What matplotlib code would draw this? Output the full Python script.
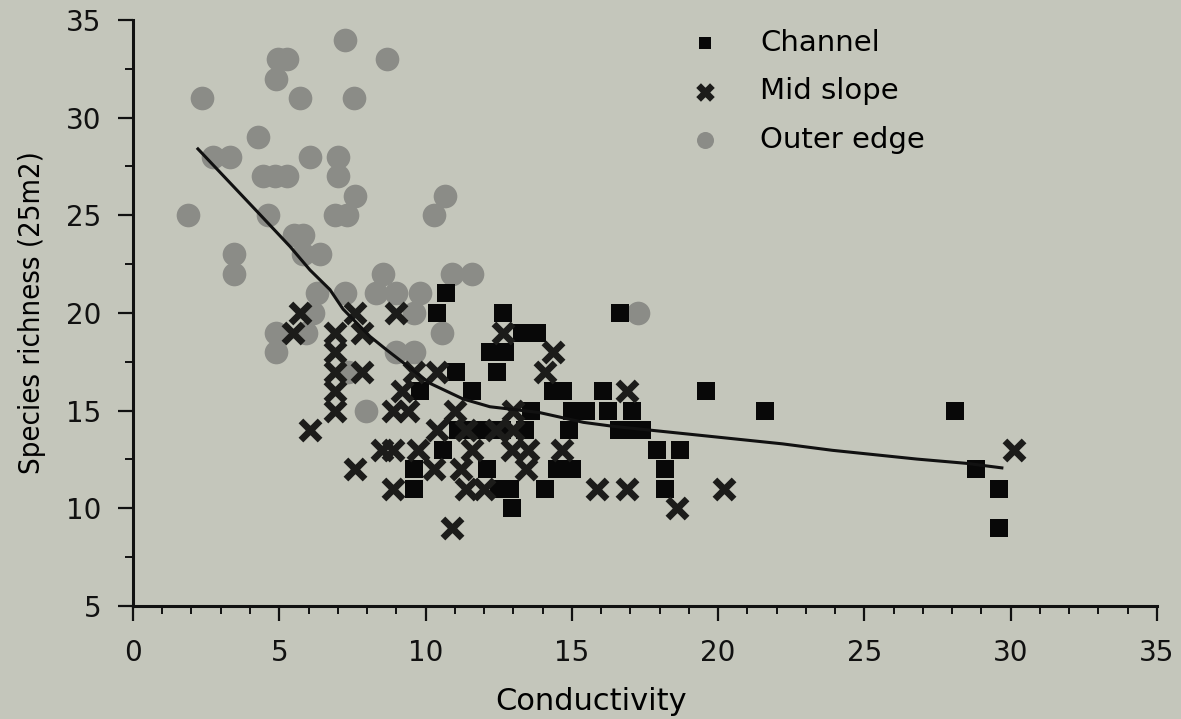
import matplotlib.pyplot as plt
from matplotlib.ticker import MultipleLocator

# Channel (black squares)
channel_x = [10.7, 10.4, 12.65, 16.65, 13.3, 13.8, 12.2, 12.7, 11.05, 12.45,
             9.8, 11.6, 14.35, 14.7, 16.07, 19.6,
             13.6, 15.0, 15.5, 16.25, 17.05, 21.6, 28.1,
             11.1, 11.6, 12.1, 12.6, 13.4, 14.9, 16.6, 17.1, 17.4,
             10.6, 17.9, 18.7,
             9.6, 12.1, 14.5, 15.0, 18.2, 28.8,
             9.6, 12.5, 12.9, 14.1, 18.2, 29.6,
             12.95, 29.6]
channel_y = [21, 20, 20, 20, 19, 19, 18, 18, 17, 17,
             16, 16, 16, 16, 16, 16,
             15, 15, 15, 15, 15, 15, 15,
             14, 14, 14, 14, 14, 14, 14, 14, 14,
             13, 13, 13,
             12, 12, 12, 12, 12, 12,
             11, 11, 11, 11, 11, 11,
             10, 9]

# Mid slope (crosses)
mid_x = [5.7, 7.6, 9.0,
         5.48, 6.9, 7.82, 12.65,
         6.9, 14.35,
         6.9, 7.82, 9.6, 10.4, 14.1,
         6.9, 9.2, 16.9,
         6.9, 8.9, 9.4, 11.0, 13.0,
         6.05, 10.4, 11.4, 12.4, 13.0,
         8.5, 8.9, 9.75, 11.6, 12.95, 13.5, 14.65, 30.1,
         7.6, 10.3, 11.2, 13.45,
         8.9, 11.4, 12.0, 15.85, 16.9, 20.2,
         18.6, 10.9]
mid_y = [20, 20, 20,
         19, 19, 19, 19,
         18, 18,
         17, 17, 17, 17, 17,
         16, 16, 16,
         15, 15, 15, 15, 15,
         14, 14, 14, 14, 14,
         13, 13, 13, 13, 13, 13, 13, 13,
         12, 12, 12, 12,
         11, 11, 11, 11, 11, 11,
         10, 9]

# Outer edge (grey circles)
outer_x = [7.25, 4.95, 5.27, 8.68, 4.89, 2.36, 5.71, 7.55, 4.27,
           2.73, 3.31, 6.05, 7.0, 4.45, 4.85, 5.25, 7.0, 7.59, 10.66,
           1.88, 4.6, 6.9, 7.3, 10.29, 5.5, 5.8, 3.45, 5.8, 6.4,
           3.45, 8.55, 10.9, 11.6, 6.3, 7.25, 8.3, 9.0, 9.8,
           6.15, 9.6, 17.25, 4.9, 5.9, 10.55, 4.9, 9.0, 9.6, 7.35, 7.95]
outer_y = [34, 33, 33, 33, 32, 31, 31, 31, 29,
           28, 28, 28, 28, 27, 27, 27, 27, 26, 26,
           25, 25, 25, 25, 25, 24, 24, 23, 23, 23,
           22, 22, 22, 22, 21, 21, 21, 21, 21,
           20, 20, 20, 19, 19, 19, 18, 18, 18, 17, 15]

# smoothed trend line
trend_x = [2.22, 4.24, 5.37, 6.05, 6.73, 7.18, 8.1, 8.68, 10.15, 11.28, 12.2,
           13.9, 15.4, 16.4, 19.95, 22.2, 23.9, 26.8, 28.5, 29.7]
trend_y = [28.4, 25.2, 23.4, 22.2, 21.2, 20.2, 18.8, 18.1, 16.4, 15.6, 15.2,
           14.9, 14.4, 14.2, 13.65, 13.3, 12.97, 12.52, 12.3, 12.07]

bg = '#c4c6bb'
fig = plt.figure(figsize=(11.81, 7.19), dpi=100, facecolor=bg)
ax = fig.add_axes([0.1126, 0.1572, 0.867, 0.815], facecolor=bg)

ax.scatter(outer_x, outer_y, s=290, marker='o', color='#8b8c87', linewidths=0,
           label='Outer edge', zorder=2)
ax.scatter(channel_x, channel_y, s=150, marker='s', color='#080808', linewidths=0,
           label='Channel', zorder=3)
ax.scatter(mid_x, mid_y, s=190, marker='x', color='#1c1c1a', linewidths=4.8,
           label='Mid slope', zorder=4)
ax.plot(trend_x, trend_y, color='#111111', lw=2.2, zorder=5)

ax.set_xlim(0, 35)
ax.set_ylim(5, 35)
ax.xaxis.set_major_locator(MultipleLocator(5))
ax.xaxis.set_minor_locator(MultipleLocator(1))
ax.yaxis.set_major_locator(MultipleLocator(5))
ax.yaxis.set_minor_locator(MultipleLocator(2.5))

for side in ['top', 'right']:
    ax.spines[side].set_visible(False)
for side in ['left', 'bottom']:
    ax.spines[side].set_linewidth(2.2)
    ax.spines[side].set_color('#111111')

ax.tick_params(which='major', direction='out', length=11, width=1.6,
               labelsize=20, colors='#111111')
ax.tick_params(which='minor', direction='out', length=6, width=1.4, colors='#111111')
ax.tick_params(axis='x', which='major', pad=13)
ax.tick_params(axis='y', which='major', pad=12)

ax.set_xlabel('Conductivity', fontsize=22, family='DejaVu Sans')
ax.xaxis.set_label_coords(0.447, -0.138)
ax.set_ylabel('Species richness (25m2)', fontsize=21, fontstretch='condensed',
              family=['Liberation Sans Narrow', 'DejaVu Sans'], labelpad=14)

handles, labels = ax.get_legend_handles_labels()
order = [1, 2, 0]
ax.legend([handles[i] for i in order], [labels[i] for i in order],
          loc='upper left', bbox_to_anchor=(0.544, 0.985), frameon=False,
          fontsize=21, markerscale=0.72, handlelength=1.0, handletextpad=1.4,
          labelspacing=0.7, borderpad=0, borderaxespad=0)

fig.savefig('out.png', dpi=100, facecolor=bg)
